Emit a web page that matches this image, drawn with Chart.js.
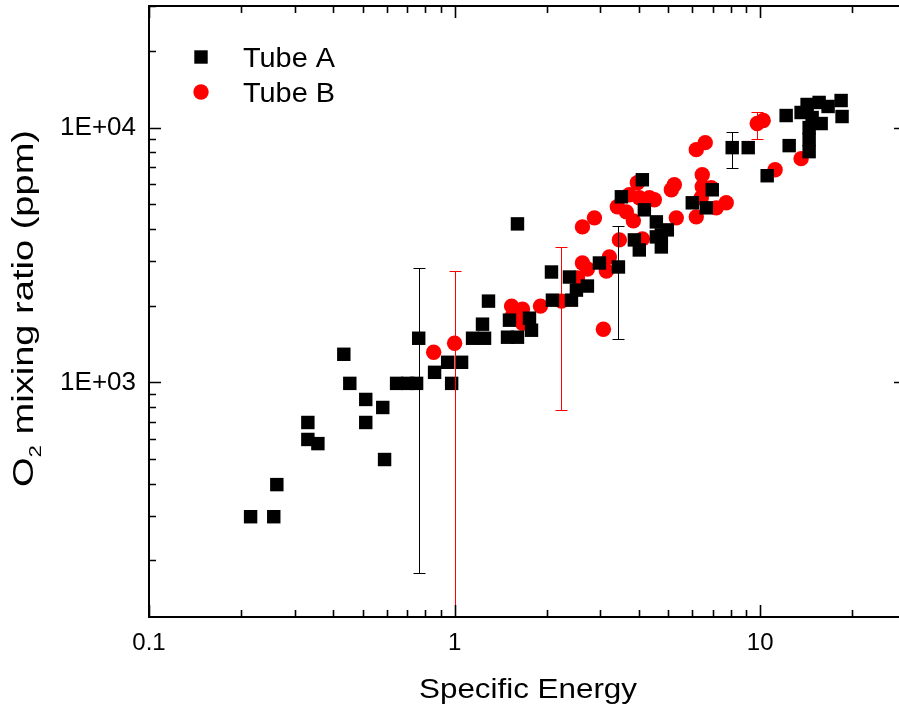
<!DOCTYPE html>
<html>
<head>
<meta charset="utf-8">
<script src="https://cdn.jsdelivr.net/npm/chart.js@4.4.0/dist/chart.umd.min.js"></script>
<style>
  html, body { margin: 0; padding: 0; background: #fff; overflow: hidden; }
  #wrap { width: 930px; height: 712px; position: relative; top: -4px; }
</style>
</head>
<body>
<div id="wrap"><canvas id="chart" width="930" height="712"></canvas></div>
<script>
// Tube A (black squares)
const tubeAX = [0.215, 0.256, 0.262, 0.331, 0.331, 0.357, 0.434, 0.454, 0.512, 0.512, 0.582, 0.59,
  0.646, 0.702, 0.751, 0.763, 0.86, 0.949, 0.978, 1.054, 1.145, 1.253, 1.234, 1.291,
  1.49, 1.606, 1.785, 1.758, 1.512, 1.606, 2.075, 2.09, 2.412, 2.376, 2.504, 2.72,
  2.978, 3.436, 3.514, 4.115, 4.178, 4.573, 4.967, 4.573, 3.875, 4.022, 4.748, 4.748,
  5.995, 6.661, 6.968, 8.099, 9.137, 10.54, 12.44, 12.16, 13.61, 14.24, 15.59, 16.68,
  18.4, 18.53, 15.83, 14.46, 14.46, 14.46, 14.79];
const tubeAY = [297, 297, 397, 696, 597, 575, 1289, 991, 857, 696, 797, 498,
  991, 991, 991, 1490, 1095, 1199, 991, 1199, 1490, 1490, 1692, 2084,
  1504, 1504, 1602, 1786, 1754, 4188, 2711, 2102, 2102, 2591, 2302, 2388,
  2941, 2837, 5350, 6240, 4755, 4265, 3967, 3724, 3624, 3309, 3400, 3791,
  5067, 4842, 5699, 8342, 8342, 6471, 8495, 11150, 11460, 12320, 12550, 12100,
  12770, 11050, 10370, 10000, 8970, 8045, 10950];

// Tube B (red circles)
const tubeBX = [0.854, 1.0, 1.536, 1.668, 1.536, 1.668, 1.91, 2.237, 2.523, 2.62,
  2.72, 3.21, 3.139, 3.068, 3.461, 2.62, 2.868, 3.409, 3.648, 3.846,
  3.731, 3.963, 4.022, 4.338, 4.504, 4.115, 5.12, 5.236, 5.315, 6.178,
  6.415, 6.463, 6.463, 6.178, 6.61, 6.917, 7.181, 7.743, 9.777, 10.23,
  11.19, 13.61];
const tubeBY = [1313, 1424, 1992, 1939, 1803, 1707, 1992, 2084, 2567, 2941,
  2786, 3105, 2735, 1617, 3624, 4076, 4423, 4887, 4669, 4304,
  5448, 6073, 5302, 5302, 5206, 3656, 5699, 5965, 4423, 4463,
  5302, 5856, 6531, 8191, 8728, 5803, 4842, 5067, 10370, 10660,
  6833, 7551];

// error bars
const tubeAErrX = [0.763, 3.436, 8.099];
const tubeAErrLo = [179, 1477, 6959];
const tubeAErrHi = [2811, 4114, 9645];
const tubeBErrX = [1.0, 2.237, 9.777];
const tubeBErrLo = [1, 776, 9050];
const tubeBErrHi = [2737, 3400, 11560];

// axes
const xTicks = [0.1, 1, 10];
const xTickLabels = ['0.1', '1', '10'];
const yTicks = [1000, 10000];
const yTickLabels = ['1E+03', '1E+04'];

const FONT = '"Liberation Sans", Arial, sans-serif';

// canvas is shifted up by SHIFT px, so canvas y = screen y + SHIFT
const SHIFT = 4;
const AREA = { left: 149, top: 6 + SHIFT, right: 906, bottom: 617 + SHIFT };

const toPoints = (xs, ys) => xs.map((x, i) => ({ x: x, y: ys[i] }));

function minorValues(min, max) {
  const out = [];
  for (let e = Math.floor(Math.log10(min)); e <= Math.ceil(Math.log10(max)); e++) {
    for (let d = 1; d <= 9; d++) {
      const v = d * Math.pow(10, e);
      if (v >= min && v <= max) out.push({ v: v, major: d === 1 });
    }
  }
  return out;
}

// draw text stretched to a given width (left aligned at x)
function textW(ctx, txt, x, y, w) {
  const m = ctx.measureText(txt).width;
  ctx.save();
  ctx.translate(x, y);
  ctx.scale(w / m, 1);
  ctx.fillText(txt, 0, 0);
  ctx.restore();
}

const framePlugin = {
  id: 'frame',
  afterDraw(chart) {
    const { ctx, chartArea: a, scales: { x, y } } = chart;
    ctx.save();
    ctx.strokeStyle = '#000';
    ctx.lineWidth = 2;
    ctx.strokeRect(a.left, a.top, a.right - a.left, a.bottom - a.top);
    ctx.lineWidth = 1.6;
    ctx.beginPath();
    minorValues(x.min, x.max).forEach(t => {
      const px = Math.round(x.getPixelForValue(t.v)) + 0.5;
      const len = t.major ? 12 : 7;
      ctx.moveTo(px, a.bottom); ctx.lineTo(px, a.bottom - len);
      ctx.moveTo(px, a.top); ctx.lineTo(px, a.top + len);
    });
    minorValues(y.min, y.max).forEach(t => {
      const py = Math.round(y.getPixelForValue(t.v)) + 0.5;
      const len = t.major ? 12 : 7;
      ctx.moveTo(a.left, py); ctx.lineTo(a.left + len, py);
      ctx.moveTo(a.right, py); ctx.lineTo(a.right - len, py);
    });
    ctx.stroke();

    ctx.translate(0, SHIFT);

    // legend
    const dsA = chart.data.datasets[0], dsB = chart.data.datasets[1];
    ctx.fillStyle = dsA.backgroundColor;
    ctx.fillRect(201 - 6.7, 57 - 6.7, 13.4, 13.4);
    ctx.fillStyle = dsB.backgroundColor;
    ctx.beginPath(); ctx.arc(201, 92, 7.7, 0, Math.PI * 2); ctx.fill();
    ctx.fillStyle = '#000';
    ctx.font = '27px ' + FONT;
    ctx.textAlign = 'left';
    ctx.textBaseline = 'alphabetic';
    textW(ctx, dsA.label, 243, 67, 92);
    textW(ctx, dsB.label, 243, 102, 92);

    // axis titles
    ctx.font = '28px ' + FONT;
    textW(ctx, 'Specific Energy', 419, 698, 218);

    ctx.save();
    ctx.translate(33, 487);
    ctx.rotate(-Math.PI / 2);
    const big = '29px ' + FONT, small = '17px ' + FONT;
    ctx.font = big; const wO = ctx.measureText('O').width;
    const rest = ' mixing ratio (ppm)'; const wR = ctx.measureText(rest).width;
    ctx.font = small; const w2 = ctx.measureText('2').width;
    const k = 357 / (wO + w2 + wR);
    ctx.scale(k, 1);
    let sx = 0;
    ctx.font = big; ctx.fillText('O', sx, 0); sx += wO;
    ctx.font = small; ctx.fillText('2', sx, 8); sx += w2;
    ctx.font = big; ctx.fillText(rest, sx, 0);
    ctx.restore();
    ctx.restore();
  }
};

const errorBarPlugin = {
  id: 'errorBars',
  afterDatasetsDraw(chart) {
    const { ctx, chartArea: a, scales: { x, y } } = chart;
    const sets = [
      [tubeAErrX, tubeAErrLo, tubeAErrHi, '#000000'],
      [tubeBErrX, tubeBErrLo, tubeBErrHi, '#ff0000']
    ];
    ctx.save();
    ctx.beginPath();
    ctx.rect(a.left, a.top, a.right - a.left, a.bottom - a.top);
    ctx.clip();
    ctx.lineWidth = 1;
    sets.forEach(([xs, lo, hi, col]) => {
      ctx.strokeStyle = col;
      xs.forEach((xv, i) => {
        const px = Math.round(x.getPixelForValue(xv)) + 0.5;
        const p1 = Math.round(y.getPixelForValue(hi[i])) + 0.5;
        const p2 = Math.min(Math.round(y.getPixelForValue(lo[i])) + 0.5, a.bottom + 5);
        ctx.beginPath();
        ctx.moveTo(px, p1); ctx.lineTo(px, p2);
        ctx.moveTo(px - 6, p1); ctx.lineTo(px + 6, p1);
        if (lo[i] > y.min) { ctx.moveTo(px - 6, p2); ctx.lineTo(px + 6, p2); }
        ctx.stroke();
      });
    });
    ctx.restore();
  }
};

const chart = new Chart(document.getElementById('chart'), {
  type: 'scatter',
  data: {
    datasets: [
      {
        label: 'Tube A',
        data: toPoints(tubeAX, tubeAY),
        pointStyle: 'rect',
        pointRadius: 9.5,
        backgroundColor: '#000000',
        borderWidth: 0
      },
      {
        label: 'Tube B',
        data: toPoints(tubeBX, tubeBY),
        pointStyle: 'circle',
        pointRadius: 7.7,
        backgroundColor: '#ff0000',
        borderWidth: 0
      }
    ]
  },
  options: {
    responsive: false,
    animation: false,
    devicePixelRatio: 1,
    layout: { padding: { top: AREA.top, right: 24, left: 0, bottom: 0 } },
    plugins: { legend: { display: false }, tooltip: { enabled: false } },
    scales: {
      x: {
        type: 'logarithmic',
        min: 0.1,
        max: 30,
        grid: { display: false, drawTicks: false },
        border: { display: false },
        afterFit: s => { s.height = 91; s.paddingLeft = 0; s.paddingRight = 0; },
        afterBuildTicks: s => { s.ticks = xTicks.map(v => ({ value: v })); },
        ticks: {
          autoSkip: false,
          maxRotation: 0,
          padding: 12,
          color: '#000',
          font: { family: FONT, size: 24 },
          callback: (v, i) => xTickLabels[i]
        }
      },
      y: {
        type: 'logarithmic',
        min: 120,
        max: 30000,
        grid: { display: false, drawTicks: false },
        border: { display: false },
        afterFit: s => { s.width = 149; s.paddingTop = 0; s.paddingBottom = 0; },
        afterBuildTicks: s => { s.ticks = yTicks.map(v => ({ value: v })); },
        ticks: {
          autoSkip: false,
          padding: 13,
          color: '#000',
          font: { family: FONT, size: 26 },
          callback: (v, i) => yTickLabels[i]
        }
      }
    }
  },
  plugins: [errorBarPlugin, framePlugin]
});

// nudge the layout padding so the plot frame lands where the original has it
const ca = chart.chartArea;
const pad = chart.options.layout.padding;
chart.options.layout.padding = {
  left: pad.left,
  top: pad.top + (AREA.top - ca.top),
  right: pad.right + (ca.right - AREA.right),
  bottom: pad.bottom + (ca.bottom - AREA.bottom)
};
chart.update();
</script>
</body>
</html>
